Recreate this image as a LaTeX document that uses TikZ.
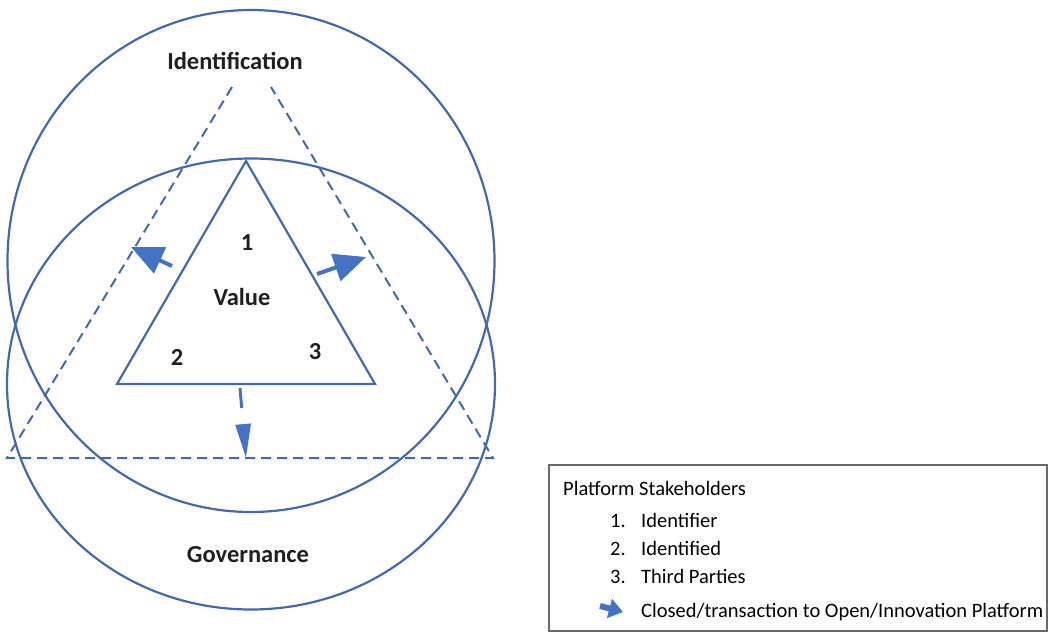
\documentclass[tikz,border=0pt]{standalone}
\usepackage{fontspec}
\setmainfont{Carlito}
\usetikzlibrary{arrows.meta,shapes.geometric}
\definecolor{ringblue}{RGB}{68,104,172}
\definecolor{arrowblue}{RGB}{68,114,196}
\definecolor{boxgray}{RGB}{105,105,105}

\begin{document}
\begin{tikzpicture}[x=1pt,y=-1pt,% pixel grid, y downwards
        ring/.style={draw=ringblue,line width=2.2pt,ellipse,inner sep=0pt},
        tri/.style={draw=ringblue,line width=2.2pt,line join=miter},
        guide/.style={draw=ringblue,line width=2pt,dash pattern=on 10pt off 6pt},
        push/.style={draw=arrowblue,line width=4pt,-{Triangle[length=32pt,width=28pt]}},
        drop/.style={draw=arrowblue,line width=3pt,dash pattern=on 20pt off 20pt,-{Triangle[length=34pt,width=15pt]}},
        lbl/.style={font=\fontsize{24.5}{29}\selectfont\bfseries,text=black!88},
        leg/.style={font=\fontsize{20.5}{25}\selectfont,anchor=base west,inner sep=0pt}]
\useasboundingbox (0,0) rectangle (1049,632);

% the two spheres
\node[ring,minimum width=487pt,minimum height=502pt] (identsphere) at (251,261) {};
\node[ring,minimum width=488pt,minimum height=451pt] (govsphere) at (251,384) {};

% value triangle
\coordinate (V-top) at (246,161);
\coordinate (V-left) at (117,384);
\coordinate (V-right) at (375,384);
\draw[tri] (V-top) -- (V-left) -- (V-right) -- cycle;

% open platform (dashed, apex left open)
\coordinate (D-ltop) at (232,87);
\coordinate (D-left) at (7,458);
\coordinate (D-right) at (493,458);
\coordinate (D-rtop) at (271,87);
\draw[guide] (D-ltop) -- (D-left) -- (D-right) -- (D-rtop);

% arrows outwards
\coordinate (A-ltail) at (172,266);
\coordinate (A-lhead) at (131,247);
\coordinate (A-rtail) at (317,274);
\coordinate (A-rhead) at (366,257);
\coordinate (A-dtail) at (240,388);
\coordinate (A-dhead) at (246,458);
\draw[push] (A-ltail) -- (A-lhead);
\draw[push] (A-rtail) -- (A-rhead);
\draw[drop] (A-dtail) -- (A-dhead);

\node[lbl] (identification) at (235,61) {Identification};
\node[lbl] (one) at (247,243) {1};
\node[lbl] (value) at (242,297) {Value};
\node[lbl] (two) at (177,357) {2};
\node[lbl] (three) at (315,352) {3};
\node[lbl] (governance) at (248,555) {Governance};

% legend
\draw[boxgray,line width=1.2pt] (549,465) rectangle (1047,631);
\node[leg] (legtitle) at (563,495) {Platform Stakeholders};
\foreach[count=\xi] \x in {Identifier,Identified,Third Parties}{ %\xi numbers the stakeholder
\node[leg] (L-\xi-num) at (610,{499+28*\xi}) {\xi.};
\node[leg] (L-\xi-txt) at (641,{499+28*\xi}) {\x};
}
\coordinate (K-tail) at (600,606);
\coordinate (K-head) at (623,612);
\draw[draw=arrowblue,line width=6pt,-{Triangle[length=14pt,width=19pt]}] (K-tail) -- (K-head);
\node[leg] (L-4-txt) at (641,617) {Closed/transaction to Open/Innovation Platform};

\end{tikzpicture}
\end{document}
